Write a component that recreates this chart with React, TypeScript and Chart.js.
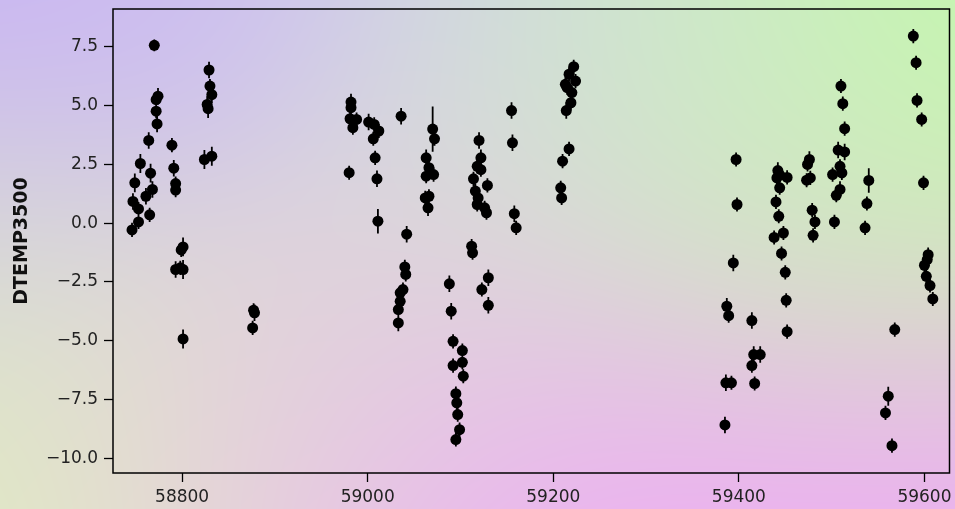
import React, { useEffect, useRef } from 'react';
import { Chart, registerables } from 'chart.js';

Chart.register(...registerables);

// ---- data ----
const mjd = [
  58747, 58746, 58749, 58753, 58753, 58755, 58761, 58764, 58765, 58766,
  58768, 58770, 58772, 58772, 58774, 58773, 58789, 58791, 58793, 58793,
  58793, 58798, 58799, 58801, 58801, 58801, 58824, 58832, 58827, 58828,
  58829, 58830, 58832, 58876, 58878, 58877,
  58980, 58982, 58982, 58981, 58988, 58984, 59001, 59007, 59012, 59006,
  59008, 59010, 59011, 59036, 59042, 59040, 59041, 59038, 59035, 59035,
  59033, 59033, 59070, 59072, 59063, 59066, 59071, 59063, 59066, 59062,
  59065, 59088, 59090, 59092, 59102, 59102, 59092, 59103, 59095, 59096,
  59097, 59099, 59095, 59112, 59113, 59120, 59122, 59118, 59122, 59114,
  59129, 59116, 59119, 59118, 59126, 59128, 59130, 59123, 59130, 59155,
  59156, 59158, 59160,
  59222, 59217, 59224, 59213, 59215, 59220, 59219, 59214, 59217, 59210,
  59208, 59209,
  59385, 59386, 59392, 59387, 59389, 59394, 59397, 59398, 59414, 59416,
  59423, 59414, 59417,
  59442, 59444, 59452, 59441, 59444, 59440, 59443, 59448, 59438, 59446,
  59450, 59451, 59452,
  59476, 59474, 59477, 59473, 59479, 59482, 59480,
  59510, 59512, 59514, 59507, 59514, 59509, 59501, 59511, 59509, 59505,
  59503,
  59540, 59538, 59536,
  59568, 59561, 59558, 59565,
  59588, 59591, 59592, 59597, 59599, 59604, 59603, 59600, 59602, 59606,
  59609,
];

const dtemp = [
  0.92, -0.29, 1.71, 0.60, 0.05, 2.53, 1.14, 3.51, 0.35, 2.12,
  1.43, 7.55, 4.75, 5.24, 5.39, 4.21, 3.31, 2.33, 1.68, 1.40,
  -1.97, -1.90, -1.14, -1.01, -1.97, -4.92, 2.70, 2.84, 5.04, 4.86,
  6.50, 5.82, 5.45, -4.45, -3.81, -3.70,
  2.14, 5.14, 4.90, 4.43, 4.40, 4.05, 4.29, 4.19, 3.91, 3.58,
  2.77, 1.88, 0.08, 4.54, -0.47, -1.86, -2.18, -2.82, -2.96, -3.32,
  -3.67, -4.24, 3.99, 3.58, 2.77, 2.35, 2.06, 1.99, 1.14, 1.07,
  0.65, -2.58, -3.74, -5.02, -5.41, -5.91, -6.05, -6.50, -7.24, -7.63,
  -8.13, -8.77, -9.19, -0.98, -1.26, 3.51, 2.77, 2.41, 2.27, 1.88,
  1.60, 1.36, 1.07, 0.79, 0.65, 0.44, -2.32, -2.82, -3.49, 4.78,
  3.41, 0.40, -0.20,
  6.64, 6.32, 6.03, 5.89, 5.75, 5.54, 5.11, 4.78, 3.15, 2.63,
  1.50, 1.07,
  -8.57, -6.78, -6.78, -3.53, -3.93, -1.69, 2.70, 0.79, -4.14, -5.58,
  -5.58, -6.05, -6.81,
  2.23, 2.05, 1.94, 1.92, 1.50, 0.90, 0.29, -0.42, -0.61, -1.29,
  -2.09, -3.28, -4.61,
  2.70, 2.49, 1.92, 1.82, 0.55, 0.05, -0.52,
  5.82, 5.07, 4.01, 3.10, 3.02, 2.41, 2.06, 2.13, 1.43, 1.18,
  0.05,
  1.81, 0.83, -0.20,
  -4.52, -7.35, -8.06, -9.45,
  7.94, 6.81, 5.21, 4.40, 1.71, -1.34, -1.55, -1.79, -2.26, -2.65,
  -3.22,
];

const dtempErr = [
  0.35, 0.30, 0.40, 0.30, 0.30, 0.40, 0.35, 0.35, 0.30, 0.40,
  0.35, 0.25, 0.30, 0.30, 0.35, 0.35, 0.30, 0.35, 0.30, 0.30,
  0.35, 0.30, 0.30, 0.40, 0.40, 0.40, 0.40, 0.40, 0.35, 0.40,
  0.35, 0.30, 0.35, 0.30, 0.35, 0.30,
  0.30, 0.35, 0.30, 0.30, 0.30, 0.30, 0.35, 0.30, 0.30, 0.30,
  0.30, 0.35, 0.52, 0.35, 0.35, 0.30, 0.30, 0.30, 0.30, 0.30,
  0.30, 0.35, 0.96, 0.30, 0.35, 0.30, 0.30, 0.30, 0.30, 0.30,
  0.35, 0.35, 0.35, 0.30, 0.30, 0.30, 0.30, 0.30, 0.30, 0.30,
  0.30, 0.30, 0.30, 0.30, 0.30, 0.35, 0.35, 0.30, 0.30, 0.30,
  0.30, 0.30, 0.30, 0.30, 0.30, 0.30, 0.35, 0.30, 0.35, 0.35,
  0.35, 0.35, 0.30,
  0.30, 0.30, 0.30, 0.30, 0.30, 0.30, 0.30, 0.35, 0.30, 0.30,
  0.30, 0.30,
  0.35, 0.35, 0.30, 0.35, 0.30, 0.35, 0.30, 0.30, 0.35, 0.35,
  0.35, 0.30, 0.30,
  0.35, 0.30, 0.30, 0.30, 0.30, 0.30, 0.30, 0.30, 0.30, 0.30,
  0.30, 0.30, 0.30,
  0.35, 0.30, 0.30, 0.30, 0.30, 0.30, 0.30,
  0.30, 0.30, 0.30, 0.35, 0.35, 0.30, 0.30, 0.30, 0.35, 0.30,
  0.30,
  0.52, 0.30, 0.30,
  0.30, 0.40, 0.30, 0.30,
  0.30, 0.30, 0.30, 0.30, 0.30, 0.30, 0.30, 0.30, 0.30, 0.30,
  0.30,
];

const xTickValues = [58800, 59000, 59200, 59400, 59600];
const yTickValues = [-10, -7.5, -5, -2.5, 0, 2.5, 5, 7.5];
const yAxisLabel = 'DTEMP3500';

// ---- style ----
const W = 955;
const H = 509;
const bgStops: [number, number, string][] = [
  [0, 0, '#c8b2f5'],
  [230, 0, '#cdbff0'],
  [480, 0, '#d2d6e4'],
  [700, 0, '#cbecc4'],
  [955, 0, '#c2f9ab'],
  [955, 150, '#c4f6ad'],
  [955, 290, '#d2efb5'],
  [840, 250, '#d0edbc'],
  [760, 160, '#cbecc2'],
  [700, 290, '#d8e2c8'],
  [620, 120, '#d0e2d2'],
  [0, 250, '#d8d9d6'],
  [0, 509, '#dfefbc'],
  [150, 509, '#e4dfd0'],
  [300, 509, '#e9c4e4'],
  [450, 250, '#dbd8d9'],
  [300, 380, '#dfd8d6'],
  [480, 360, '#e2d2dc'],
  [480, 509, '#eeaaf6'],
  [700, 509, '#f0a7f8'],
  [955, 509, '#f1a6fa'],
  [955, 430, '#ecacf3'],
  [820, 460, '#eeabf4'],
  [620, 460, '#edaef3'],
];

function hexRgb(h: string) {
  const n = parseInt(h.slice(1), 16);
  return [(n >> 16) & 255, (n >> 8) & 255, n & 255];
}

function makeBackground(): HTMLCanvasElement {
  const c = document.createElement('canvas');
  c.width = W;
  c.height = H;
  const ctx = c.getContext('2d')!;
  const img = ctx.createImageData(W, H);
  const pts = bgStops.map(([x, y, col]) => ({ x, y, c: hexRgb(col) }));
  const s2 = 2 * 140 * 140;
  for (let y = 0; y < H; y++) {
    for (let x = 0; x < W; x++) {
      let r = 0, g = 0, b = 0, ws = 0;
      for (const p of pts) {
        const dx = x - p.x, dy = y - p.y;
        const w = Math.exp(-(dx * dx + dy * dy) / s2) + 1e-12;
        r += w * p.c[0]; g += w * p.c[1]; b += w * p.c[2]; ws += w;
      }
      const i = (y * W + x) * 4;
      img.data[i] = r / ws;
      img.data[i + 1] = g / ws;
      img.data[i + 2] = b / ws;
      img.data[i + 3] = 255;
    }
  }
  ctx.putImageData(img, 0, 0);
  return c;
}

export default function App() {
  const ref = useRef<HTMLCanvasElement | null>(null);

  useEffect(() => {
    if (!ref.current) return;
    const bg = makeBackground();
    const points = mjd.map((x, i) => ({ x, y: dtemp[i] }));

    const bgPlugin = {
      id: 'bgPlugin',
      beforeDraw(chart: any) {
        chart.ctx.save();
        chart.ctx.drawImage(bg, 0, 0);
        chart.ctx.restore();
      },
      afterDraw(chart: any) {
        const { ctx, chartArea } = chart;
        ctx.save();
        ctx.strokeStyle = '#000';
        ctx.lineWidth = 1.5;
        ctx.strokeRect(chartArea.left, chartArea.top, chartArea.right - chartArea.left, chartArea.bottom - chartArea.top);
        ctx.restore();
      },
    };

    const errPlugin = {
      id: 'errPlugin',
      beforeDatasetsDraw(chart: any) {
        const { ctx, scales } = chart;
        const xs = scales.x, ys = scales.y;
        ctx.save();
        ctx.strokeStyle = '#000';
        ctx.lineWidth = 1.8;
        ctx.beginPath();
        for (let i = 0; i < mjd.length; i++) {
          const px = xs.getPixelForValue(mjd[i]);
          ctx.moveTo(px, ys.getPixelForValue(dtemp[i] - dtempErr[i]));
          ctx.lineTo(px, ys.getPixelForValue(dtemp[i] + dtempErr[i]));
        }
        ctx.stroke();
        ctx.restore();
      },
    };

    const tickFont = { family: '"DejaVu Sans", sans-serif', size: 17 };

    const chart = new Chart(ref.current, {
      type: 'scatter',
      data: {
        datasets: [
          {
            data: points,
            backgroundColor: '#000',
            borderColor: '#000',
            borderWidth: 0,
            pointRadius: 5.5,
            pointHoverRadius: 5.5,
          },
        ],
      },
      options: {
        animation: false,
        responsive: false,
        events: [],
        layout: { padding: { top: 9, right: 4, left: 0, bottom: 0 } },
        plugins: { legend: { display: false }, tooltip: { enabled: false } },
        scales: {
          x: {
            type: 'linear',
            min: 58725.5,
            max: 59627,
            afterBuildTicks(scale: any) {
              scale.ticks = xTickValues.map((v) => ({ value: v }));
            },
            afterFit(scale: any) {
              scale.height = 36;
              scale.paddingLeft = 0;
              scale.paddingRight = 0;
              scale.paddingTop = 0;
              scale.paddingBottom = 0;
            },
            border: { display: false },
            grid: {
              drawOnChartArea: false,
              drawTicks: true,
              tickLength: 9,
              tickColor: '#000',
              tickWidth: 1.3,
            },
            ticks: {
              color: '#222',
              font: tickFont,
              padding: 5,
              maxRotation: 0,
              autoSkip: false,
              callback: (v: any) => String(v),
            },
          },
          y: {
            type: 'linear',
            min: -10.61,
            max: 9.09,
            afterBuildTicks(scale: any) {
              scale.ticks = yTickValues.map((v) => ({ value: v }));
            },
            afterFit(scale: any) {
              scale.width = 113;
              scale.paddingLeft = 0;
              scale.paddingRight = 0;
              scale.paddingTop = 0;
              scale.paddingBottom = 0;
            },
            border: { display: false },
            grid: {
              drawOnChartArea: false,
              drawTicks: true,
              tickLength: 9,
              tickColor: '#000',
              tickWidth: 1.3,
            },
            title: {
              display: true,
              text: yAxisLabel,
              color: '#111',
              font: { family: '"DejaVu Sans", sans-serif', size: 19, weight: 'bold' },
              padding: { top: 11, bottom: 0 },
            },
            ticks: {
              color: '#222',
              font: tickFont,
              padding: 6,
              autoSkip: false,
              callback: (v: any) => {
                const n = Number(v);
                const s = Math.abs(n).toFixed(1);
                return n < 0 ? '\u2212' + s : s;
              },
            },
          },
        },
      },
      plugins: [bgPlugin, errPlugin],
    } as any);

    return () => chart.destroy();
  }, []);

  return (
    <div style={{ position: 'absolute', left: 0, top: 0, width: W, height: H }}>
      <canvas ref={ref} width={W} height={H} style={{ display: 'block', width: W, height: H }} />
    </div>
  );
}
